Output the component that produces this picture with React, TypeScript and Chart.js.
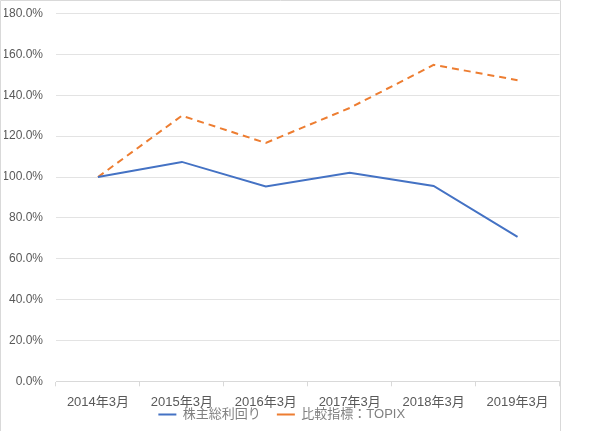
import React, { useEffect, useRef } from "react";
import { Chart, registerables } from "chart.js";

Chart.register(...registerables);

const categories = ["2014年3月", "2015年3月", "2016年3月", "2017年3月", "2018年3月", "2019年3月"];
const tsrValues = [1.0, 1.074, 0.954, 1.021, 0.956, 0.707];
const topixValues = [1.0, 1.3, 1.167, 1.338, 1.549, 1.474];
const seriesNames = ["株主総利回り", "比較指標：TOPIX"];
const yTickMin = 0;
const yTickMax = 1.8;
const yTickStep = 0.2;

const FONT = '"Liberation Sans", "Noto Sans CJK JP", sans-serif';

const framePlugin = {
  id: "frame",
  beforeDraw(chart: any) {
    const ctx = chart.ctx;
    ctx.save();
    ctx.strokeStyle = "#d9d9d9";
    ctx.lineWidth = 1;
    ctx.beginPath();
    ctx.moveTo(0.5, chart.height);
    ctx.lineTo(0.5, 0.5);
    ctx.lineTo(560.5, 0.5);
    ctx.lineTo(560.5, chart.height);
    ctx.stroke();
    ctx.restore();
  },
};

export default function App() {
  const ref = useRef<HTMLCanvasElement | null>(null);

  useEffect(() => {
    document.body.style.margin = "0";
    if (!ref.current) return;
    const chart = new Chart(ref.current, {
      type: "line",
      data: {
        labels: categories,
        datasets: [
          {
            label: seriesNames[0],
            data: tsrValues,
            borderColor: "#4472C4",
            backgroundColor: "#4472C4",
            borderWidth: 2,
            pointRadius: 0,
            tension: 0,
          },
          {
            label: seriesNames[1],
            data: topixValues,
            borderColor: "#ED7D31",
            backgroundColor: "#ED7D31",
            borderWidth: 2,
            borderDash: [7, 5],
            pointRadius: 0,
            tension: 0,
          },
        ],
      },
      options: {
        animation: false,
        responsive: true,
        maintainAspectRatio: false,
        layout: { padding: { left: 4, right: 38.5, top: 13.6, bottom: 0 } },
        plugins: {
          tooltip: { enabled: false },
          legend: {
            position: "bottom",
            labels: {
              usePointStyle: true,
              pointStyle: "line",
              pointStyleWidth: 18,
              boxHeight: 13,
              padding: 16,
              color: "#808080",
              font: { family: FONT, size: 13 },
            },
          },
        },
        scales: {
          x: {
            offset: true,
            afterFit: (s: any) => {
              s.height = 10.7;
            },
            grid: {
              offset: true,
              drawOnChartArea: false,
              drawTicks: true,
              tickLength: 5,
              color: "#d9d9d9",
            },
            border: { color: "#d9d9d9", width: 1 },
            ticks: {
              mirror: true,
              color: "#595959",
              padding: -29,
              maxRotation: 0,
              autoSkip: false,
              font: { family: FONT, size: 13 },
            },
          },
          y: {
            min: yTickMin,
            max: yTickMax,
            afterFit: (s: any) => {
              s.width = 52;
            },
            grid: {
              color: "#e3e3e3",
              drawTicks: true,
              tickLength: 13,
              tickColor: "rgba(0,0,0,0)",
            },
            border: { display: false },
            ticks: {
              stepSize: yTickStep,
              color: "#595959",
              padding: 0,
              font: { family: FONT, size: 12 },
              callback: (v: any) => (Number(v) * 100).toFixed(1) + "%",
            },
          },
        },
      },
      plugins: [framePlugin],
    });
    return () => chart.destroy();
  }, []);

  return (
    <div style={{ position: "relative", width: 598, height: 431 }}>
      <canvas ref={ref} />
    </div>
  );
}
